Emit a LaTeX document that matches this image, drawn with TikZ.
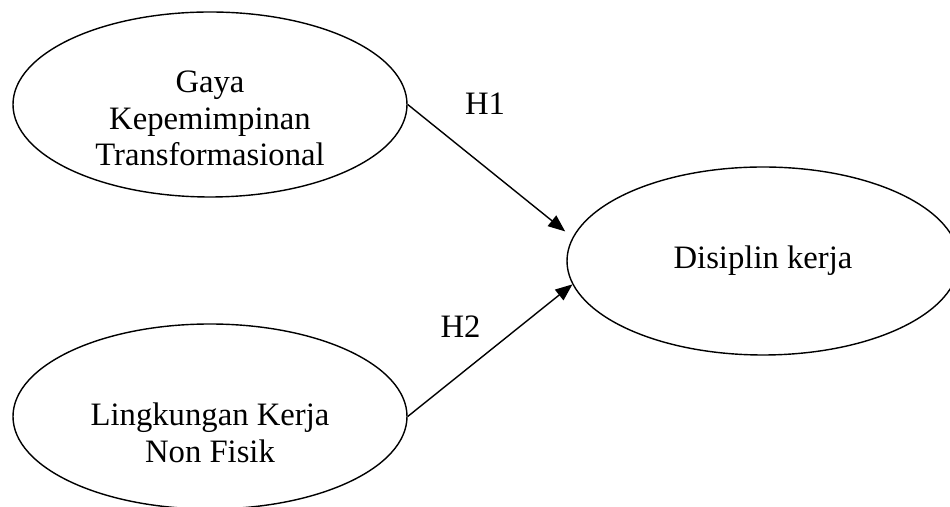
\documentclass[tikz,border=0pt]{standalone}
\usepackage{fontspec}
\setmainfont{Liberation Serif}
\usetikzlibrary{shapes.geometric, arrows.meta, positioning}

\begin{document}
\begin{tikzpicture}[
    var/.style={ellipse, draw, line width=0.8pt, minimum width=7.88cm, minimum height=3.7cm, inner sep=0pt},
    txt/.style={align=center, font=\fontsize{18.6}{20.8}\selectfont, inner sep=0pt},
    arrow/.style={-{Triangle[length=0.34cm, width=0.27cm]}, line width=0.8pt}
]
    \useasboundingbox (0,0) rectangle (19,10.14);

    % Variables (ellipses)
    \node[var] (gaya) at (4.2,8.05) {};
    \node[var] (ling) at (4.2,1.81) {};
    \node[var, txt, minimum width=7.84cm, minimum height=3.76cm] (disiplin) at (15.26,4.92) {Disiplin kerja};

    % Variable names
    \node[txt] (gaya_txt) at ([yshift=-0.28cm]gaya.center) {Gaya\\Kepemimpinan\\Transformasional};
    \node[txt] (ling_txt) at ([yshift=-0.33cm]ling.center) {Lingkungan Kerja\\Non Fisik};

    % Hypotheses
    \draw[arrow] (gaya.east) -- ([xshift=-0.22cm]disiplin.171);
    \draw[arrow] (ling.east) -- (disiplin.187);

    \node[txt] (h1) at (9.7,8.06) {H1};
    \node[txt] (h2) at (9.21,3.61) {H2};
\end{tikzpicture}
\end{document}
